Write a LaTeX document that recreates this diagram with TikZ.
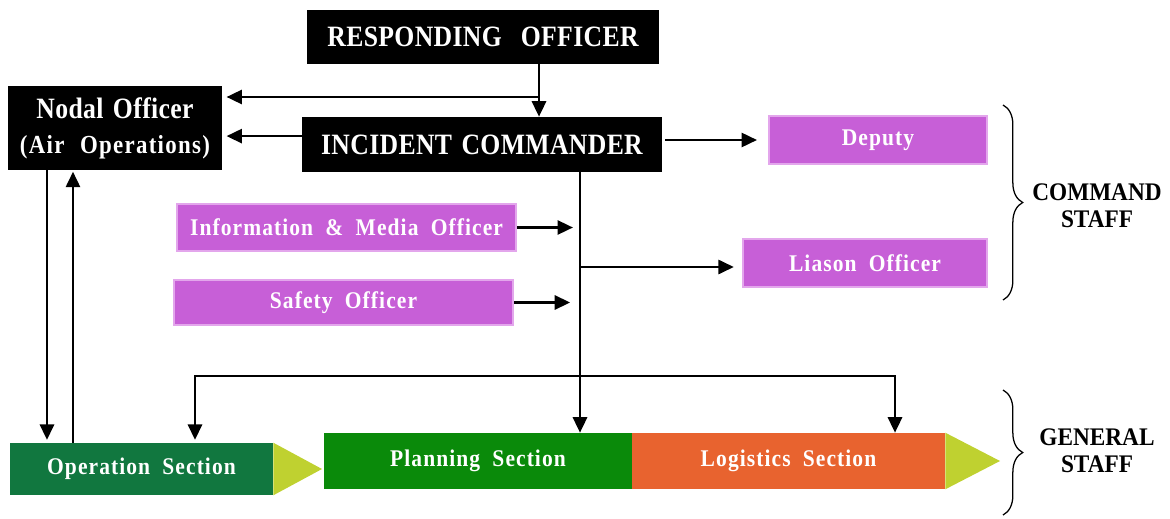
\documentclass[tikz,border=0pt]{standalone}
\usepackage{fontspec}
\setmainfont{Liberation Serif}
\newfontfamily\spacedfont{Liberation Serif}[FakeStretch=0.9,LetterSpace=4.5,WordSpace=1.9]
\newfontfamily\widefont{Liberation Serif}[FakeStretch=0.88,LetterSpace=5,WordSpace=2.2]
\newfontfamily\capsfont{Liberation Serif}[FakeStretch=0.87,LetterSpace=1.2,WordSpace=1.4]
\newfontfamily\lblfont{Liberation Serif}[FakeStretch=0.92]
\usetikzlibrary{arrows.meta,decorations.pathreplacing}
\definecolor{staffpink}{HTML}{C75FD7}
\definecolor{staffedge}{HTML}{E3A6EC}
\definecolor{opsgreen}{HTML}{11773F}
\definecolor{plangreen}{HTML}{0A8A0A}
\definecolor{logorange}{HTML}{E8632F}
\definecolor{tipyellow}{HTML}{BFD130}
\tikzset{
  blackbox/.style={fill=black, text=white, font=\capsfont\bfseries\fontsize{21}{23}\selectfont, inner sep=0pt, align=center},
  staffbox/.style={fill=staffpink, draw=staffedge, line width=1pt, text=white, font=\spacedfont\bfseries\fontsize{17}{19}\selectfont, inner sep=0pt},
  secbox/.style={text=white, font=\spacedfont\bfseries\fontsize{17}{19}\selectfont, inner sep=0pt},
  arr/.style={line width=1.9pt, -{Triangle[length=11pt,width=10pt]}},
  brc/.style={decorate, decoration={brace, amplitude=14pt}, line width=0.9pt},
  stafflbl/.style={font=\lblfont\bfseries\fontsize{18}{19}\selectfont, align=center}
}
\begin{document}
\begin{tikzpicture}[x=0.025cm, y=-0.025cm]
\useasboundingbox (0,0) rectangle (1170,519);
% command chain
\node[blackbox, minimum width=8.8cm, minimum height=1.35cm] (resp) at (483,37) {RESPONDING\ \ OFFICER};
\node[blackbox, minimum width=5.35cm, minimum height=2.1cm] (nodal) at (115,128) {Nodal Officer\\[2pt]\widefont\bfseries\fontsize{18.5}{20}\selectfont(Air Operations)};
\node[blackbox, minimum width=9cm, minimum height=1.375cm] (ic) at (482,144.5) {INCIDENT COMMANDER};
% command staff
\node[staffbox, minimum width=5.45cm, minimum height=1.2cm] (deputy) at (878,140) {Deputy};
\node[staffbox, minimum width=8.475cm, minimum height=1.175cm] (info) at (346.5,227.5) {Information \& Media Officer};
\node[staffbox, minimum width=8.475cm, minimum height=1.125cm] (safety) at (343.5,302.5) {Safety Officer};
\node[staffbox, minimum width=6.1cm, minimum height=1.2cm] (liason) at (865,263) {Liason Officer};
% general staff
\node[secbox, fill=opsgreen, minimum width=6.575cm, minimum height=1.3cm] (ops) at (141.5,469) {Operation Section};
\node[secbox, fill=plangreen, minimum width=7.7cm, minimum height=1.4cm] (plan) at (478,461) {Planning Section};
\node[secbox, fill=logorange, minimum width=7.825cm, minimum height=1.4cm] (logi) at (788.5,461) {Logistics Section};
\coordinate (opstip) at (322,469);
\coordinate (logitip) at (1000,461);
\fill[tipyellow] (ops.north east) -- (opstip) -- (ops.south east) -- cycle;
\fill[tipyellow] (logi.north east) -- (logitip) -- (logi.south east) -- cycle;
% connectors
\coordinate (rj) at (539,97);
\coordinate (spine) at (580,267);
\coordinate (busl) at (195,376);
\coordinate (busr) at (895,376);
\draw[arr] (resp.south -| rj) -- (ic.north -| rj);
\draw[arr, shorten >=3pt] (rj) -- (nodal.east |- rj);
\draw[arr, shorten >=3pt] ([yshift=0.21cm]ic.west) -- ([yshift=0.21cm]ic.west -| nodal.east);
\draw[arr, shorten <=2pt, shorten >=8pt] (ic.east |- deputy.west) -- (deputy.west);
\draw[arr] (ic.south -| spine) -- (plan.north -| spine);
\draw[arr, shorten >=5pt] (info.east) -- (info.east -| spine);
\draw[arr, shorten >=7pt] (safety.east) -- (safety.east -| spine);
\draw[arr, shorten >=6pt] (spine) -- (liason.west |- spine);
\draw[arr, shorten >=2pt] (spine |- busl) -- (busl) -- (ops.north -| busl);
\draw[arr] (spine |- busl) -- (busr) -- (logi.north -| busr);
\draw[arr, shorten >=2pt] ([xshift=-1.7cm]nodal.south) -- ([xshift=-1.7cm]nodal.south |- ops.north);
\draw[arr, shorten >=1pt] ([xshift=-1.05cm]nodal.south |- ops.north) -- ([xshift=-1.05cm]nodal.south);
% braces
\draw[brc] (1003,105) -- (1003,300);
\draw[brc] (1003,390) -- (1003,515);
\node[stafflbl] (cmdlbl) at (1097,206) {COMMAND\\STAFF};
\node[stafflbl] (genlbl) at (1097,451) {GENERAL\\STAFF};
\end{tikzpicture}
\end{document}
